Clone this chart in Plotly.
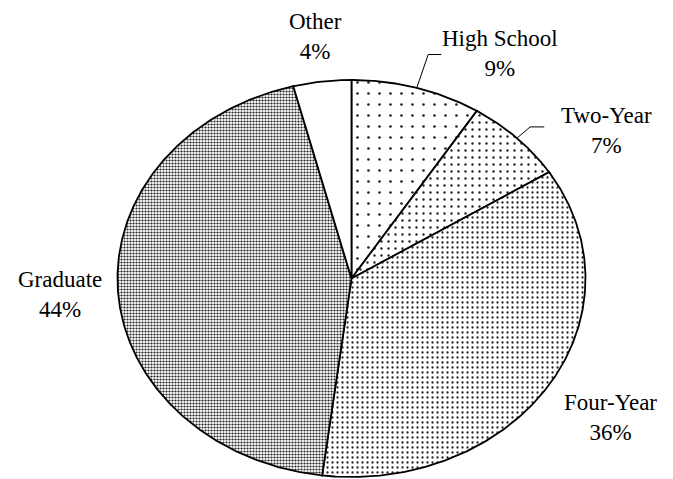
import numpy as np
import plotly.graph_objects as go

# Share of respondents by highest degree
categories = ["High School", "Two-Year", "Four-Year", "Graduate", "Other"]
shares = [9, 7, 36, 44, 4]

# Dotted fill per slice: tile size (px) and dot solidity
dot_size = [11, 7, 5, 3, 8]
dot_solidity = [0.045, 0.09, 0.16, 0.42, 0.0]

# Label placement: radial distance and angular nudge (degrees)
label_r = [1.30, 1.32, 1.31, 1.25, 1.23]
label_shift = [13.0, 10.5, 0.0, 0.0, 0.0]
# Leader lines for the small slices: elbow radius and horizontal tail
leader_r = [1.175, 1.08, None, None, None]
leader_tail = [0.056, 0.06, None, None, None]

FONT = dict(family="Liberation Serif, Times New Roman, serif", size=23, color="black")

total = float(sum(shares))
bounds = np.concatenate([[0.0], np.cumsum(shares) / total * 360.0])

fig = go.Figure()

for i, name in enumerate(categories):
    a0, a1 = bounds[i], bounds[i + 1]
    theta = np.radians(np.linspace(a0, a1, max(int((a1 - a0) * 2), 8)))
    xs = np.concatenate([[0.0], np.sin(theta), [0.0]])
    ys = np.concatenate([[0.0], np.cos(theta), [0.0]])
    pattern = dict(shape="", bgcolor="white")
    if dot_solidity[i] > 0:
        pattern = dict(shape=".", size=dot_size[i], solidity=dot_solidity[i],
                       fgcolor="#222222", bgcolor="white", fillmode="replace")
    fig.add_trace(go.Scatter(
        x=xs, y=ys, mode="lines", fill="toself", fillcolor="white",
        fillpattern=pattern, line=dict(color="black", width=1.8),
        name=name, hoverinfo="name", showlegend=False,
    ))

for i, name in enumerate(categories):
    mid = np.radians((bounds[i] + bounds[i + 1]) / 2.0)
    if leader_r[i] is not None:
        ex, ey = leader_r[i] * np.sin(mid), leader_r[i] * np.cos(mid)
        fig.add_trace(go.Scatter(
            x=[np.sin(mid), ex, ex + leader_tail[i]],
            y=[np.cos(mid), ey, ey],
            mode="lines", line=dict(color="black", width=1),
            hoverinfo="skip", showlegend=False,
        ))
    ang = mid + np.radians(label_shift[i])
    fig.add_annotation(
        x=label_r[i] * np.sin(ang), y=label_r[i] * np.cos(ang),
        xref="x", yref="y", text=f"{name}<br>{shares[i]}%",
        showarrow=False, font=FONT, align="center",
        xanchor="center", yanchor="middle",
    )

fig.update_layout(
    width=673, height=479,
    margin=dict(l=0, r=0, t=0, b=0),
    paper_bgcolor="white", plot_bgcolor="white",
    xaxis=dict(range=[-1.502, 1.374], visible=False, fixedrange=True),
    yaxis=dict(range=[-1.010, 1.403], visible=False, fixedrange=True),
)

fig.write_html("out.html")
